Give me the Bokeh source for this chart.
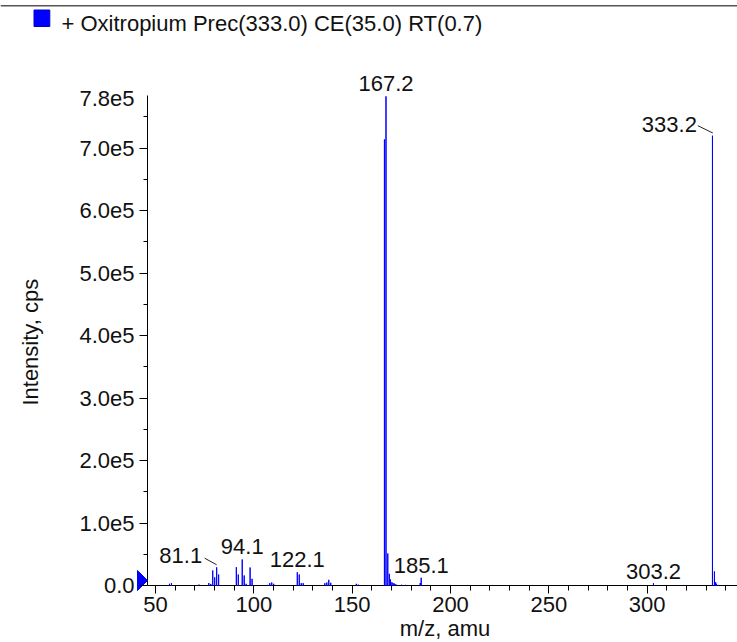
import math
from bokeh.plotting import figure
from bokeh.models import (Range1d, FixedTicker, Label, ColumnDataSource, Legend,
                          LegendItem, Span)
from bokeh.embed import file_html
from bokeh.resources import INLINE

# ---------------- data ----------------
mz = [57.1, 58.1, 72.1, 77.1, 78.1, 79.1, 80.1, 81.1, 82.1,
      91.1, 92.1, 94.1, 95.1, 96.1, 98.1, 99.1,
      107.1, 108.1, 109.1, 110.1,
      122.1, 123.1, 124.1, 125.1,
      136.1, 137.1, 138.1, 139.1, 152.1, 153.1,
      166.4, 167.2, 168.1, 168.9, 169.5, 170.2, 170.8, 171.5, 172.2,
      175.1, 177.1, 184.6, 185.1,
      303.2, 333.2, 334.2, 334.8, 335.2, 336.1]
intensity = [2700, 4000, 1500, 4000, 2500, 24000, 13000, 29000, 17600,
             29300, 17600, 41600, 16000, 2700, 28800, 10700,
             1000, 3700, 4800, 2700,
             21300, 17600, 3700, 3700,
             3700, 4800, 9100, 4300, 2700, 1500,
             714000, 783000, 51200, 18700, 9600, 5300, 4000, 3000, 2000,
             1200, 1000, 4000, 12300,
             3700, 720000, 22400, 5300, 2700, 1000]

label_mz = [81.1, 94.1, 122.1, 167.2, 185.1, 303.2, 333.2]
label_int = [29000, 41600, 21300, 783000, 12300, 3700, 720000]
label_text = ["81.1", "94.1", "122.1", "167.2", "185.1", "303.2", "333.2"]

x_ticks = [50, 100, 150, 200, 250, 300]
x_minor = list(range(50, 341, 10))
y_ticks = [0, 100000, 200000, 300000, 400000, 500000, 600000, 700000]
y_tick_labels = ["0.0", "1.0e5", "2.0e5", "3.0e5", "4.0e5", "5.0e5", "6.0e5", "7.0e5"]
y_minor = [50000, 150000, 250000, 350000, 450000, 550000, 650000, 750000]
y_top_value = 780000
y_top_label = "7.8e5"
x_axis_start = 45.93
y_axis_top = 784400

legend_text = "+ Oxitropium Prec(333.0) CE(35.0) RT(0.7)"
x_title = "m/z, amu"
y_title = "Intensity, cps"

# ---------------- layout / style ----------------
FONT = "Liberation Sans"
BLUE = "#0000FF"
TXT = "#111111"
W, H = 737, 642                 # the frame fills the whole page
AX_X, AX_Y = 147, 585           # page position of the axis origin
PX_X = 590 / 300.0              # px per m/z unit
PX_Y = 62.47 / 100000.0         # px per count


def dx(page_x):
    return x_axis_start + (page_x - AX_X) / PX_X


def dy(page_y):
    return (AX_Y - page_y) / PX_Y


p = figure(frame_width=W, frame_height=H,
           x_range=Range1d(dx(0), dx(W)), y_range=Range1d(dy(H), dy(0)),
           output_backend="svg", toolbar_location=None,
           min_border_left=0, min_border_right=0,
           min_border_top=0, min_border_bottom=0)
p.background_fill_color = "white"
p.border_fill_color = "white"
p.outline_line_color = None
p.grid.visible = False
p.title.visible = False

# axis lines at the data origin
p.segment(x0=[x_axis_start, x_axis_start], y0=[0, 0],
          x1=[x_axis_start, dx(W)], y1=[y_axis_top, 0],
          line_color="black", line_width=1)

# spectrum sticks
src = ColumnDataSource(dict(mz=mz, intensity=intensity))
p.vbar(x="mz", top="intensity", bottom=0, width=0.0001, source=src,
       fill_color=BLUE, line_color=BLUE, line_width=1)

# axes (ticks reach from the frame edge to the data origin)
xa = p.xaxis[0]
ya = p.yaxis[0]
xa.ticker = FixedTicker(ticks=x_ticks, minor_ticks=x_minor)
ya.ticker = FixedTicker(ticks=y_ticks, minor_ticks=y_minor)
ya.major_label_overrides = {t: s for t, s in zip(y_ticks, y_tick_labels)}
xa.bounds = (x_axis_start, dx(W))
ya.bounds = (0, y_axis_top)
for ax in (xa, ya):
    ax.axis_line_color = None
    ax.major_tick_line_color = "black"
    ax.minor_tick_line_color = "black"
    ax.major_label_text_font = FONT
    ax.major_label_text_font_size = "22px"
    ax.major_label_text_color = TXT
xb = H - AX_Y       # distance of origin from frame bottom
xa.major_tick_in = xb
xa.major_tick_out = 8 - xb
xa.minor_tick_in = xb
xa.minor_tick_out = 5 - xb
xa.major_label_standoff = 3
ya.major_tick_in = AX_X
ya.major_tick_out = 8 - AX_X
ya.minor_tick_in = AX_X
ya.minor_tick_out = 4 - AX_X
ya.major_label_standoff = 5

# label at the top end of the intensity axis (no tick mark there)
p.add_layout(Label(x=x_axis_start, y=y_top_value, text=y_top_label, x_offset=-13,
                   text_align="right", text_baseline="middle", text_font=FONT,
                   text_font_size="22px", text_color=TXT))

# axis titles
p.add_layout(Label(x=dx(444.5), y=dy(628), text=x_title, text_align="center",
                   text_baseline="middle", text_font=FONT, text_font_size="22px",
                   text_color=TXT))
p.add_layout(Label(x=dx(30), y=dy(341.7), text=y_title, angle=math.pi / 2,
                   text_align="center", text_baseline="middle", text_font=FONT,
                   text_font_size="22px", text_color=TXT))

# peak labels
label_dx = [-14.5, 0, 0, 0, 0, 0, -15.6]
label_dy = [11.6, 13.0, 12.2, 12.7, 12.8, 11.7, 11.7]
label_align = ["right", "center", "center", "center", "center", "center", "right"]
for t, x, y, dxp, dyp, al in zip(label_text, label_mz, label_int, label_dx, label_dy, label_align):
    p.add_layout(Label(x=x, y=y, text=t, x_offset=dxp, y_offset=dyp,
                       text_align=al, text_baseline="middle",
                       text_font=FONT, text_font_size="22px", text_color=TXT))

# leader lines for the displaced labels (81.1 and 333.2)
lead_idx = [0, 6]
lead_from = [(-12.0, 9.2), (-14.6, 10.0)]
lead_to = [(0.0, 2.6), (0.4, 2.7)]
lx0, ly0, lx1, ly1 = [], [], [], []
for i, (f, t) in zip(lead_idx, zip(lead_from, lead_to)):
    lx0.append(label_mz[i] + f[0] / PX_X)
    ly0.append(label_int[i] + f[1] / PX_Y)
    lx1.append(label_mz[i] + t[0] / PX_X)
    ly1.append(label_int[i] + t[1] / PX_Y)
p.segment(x0=lx0, y0=ly0, x1=lx1, y1=ly1, line_color="#222222", line_width=1)

# blue triangle marker at the origin of the intensity axis
p.patch(x=[x_axis_start - 10 / PX_X, x_axis_start, x_axis_start - 10 / PX_X],
        y=[15 / PX_Y, 5 / PX_Y, -5 / PX_Y],
        fill_color=BLUE, line_color=BLUE, line_width=1)

# series legend: blue swatch + label text
p.quad(left=[dx(33.5)], right=[dx(49.3)], top=[dy(9.5)], bottom=[dy(26)],
       fill_color=BLUE, line_color="#0000CC", line_width=1)
key = p.quad(left=[], right=[], top=[], bottom=[], fill_color=BLUE, line_color=BLUE)
leg = Legend(items=[LegendItem(label=legend_text, renderers=[key])],
             location=(31.5, 604), orientation="vertical",
             glyph_width=20, glyph_height=20, label_standoff=10, label_height=28,
             padding=0, margin=0, spacing=0,
             border_line_color=None, background_fill_alpha=0,
             label_text_font=FONT, label_text_font_size="22px", label_text_color=TXT)
p.add_layout(leg)

# rule across the top of the page
p.add_layout(Span(location=dy(5.3), dimension="width", line_color="#555555", line_width=1.5))

open("out.html", "w").write(file_html(p, INLINE))
